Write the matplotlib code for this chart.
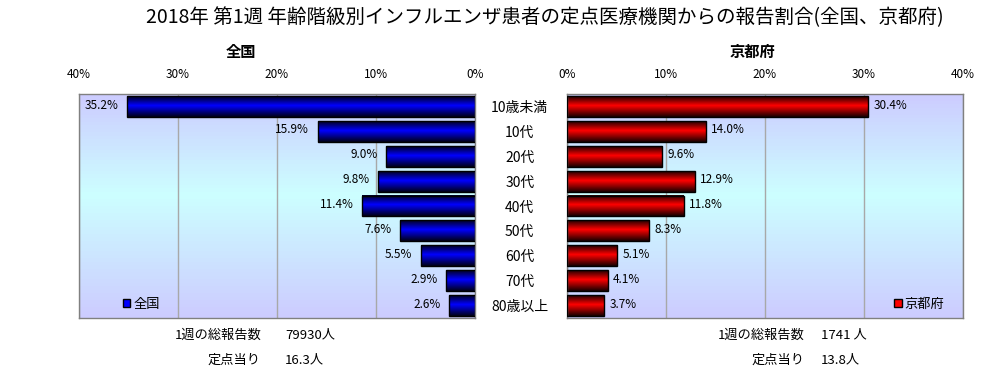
import numpy as np
import matplotlib
matplotlib.use('Agg')
import matplotlib.pyplot as plt
from matplotlib.colors import LinearSegmentedColormap
from matplotlib.patches import Patch

# フォント設定
plt.rcParams['font.family'] = ['Noto Sans CJK JP', 'DejaVu Sans']
plt.rcParams['axes.unicode_minus'] = False

# データ
age_groups = ['10歳未満', '10代', '20代', '30代', '40代', '50代', '60代', '70代', '80歳以上']
zenkoku = [35.2, 15.9, 9.0, 9.8, 11.4, 7.6, 5.5, 2.9, 2.6]
kyoto = [30.4, 14.0, 9.6, 12.9, 11.8, 8.3, 5.1, 4.1, 3.7]
xticks = [0, 10, 20, 30, 40]
zenkoku_total = '79930人'
zenkoku_per_point = '16.3人'
kyoto_total = '1741 人'
kyoto_per_point = '13.8人'

# 背景・バーのグラデーション
bg_cmap = LinearSegmentedColormap.from_list(
    'bg', [(0.0, '#ccccff'), (0.45, '#ccffff'), (1.0, '#ccccff')])
blue_cmap = LinearSegmentedColormap.from_list(
    'blue', [(0.0, '#000020'), (0.45, '#0000ff'), (1.0, '#000018')])
red_cmap = LinearSegmentedColormap.from_list(
    'red', [(0.0, '#200000'), (0.45, '#ff0000'), (1.0, '#180000')])

grad = np.linspace(0, 1, 64).reshape(-1, 1)
ypos = np.arange(len(age_groups))[::-1]

fig = plt.figure(figsize=(10.06, 3.73), dpi=100)
fig.patch.set_facecolor('white')

ax1 = fig.add_axes([79 / 1006, 55 / 373, 396 / 1006, 224 / 373])
ax2 = fig.add_axes([567 / 1006, 55 / 373, 396 / 1006, 224 / 373])


def draw_panel(ax, values, cmap, label_side):
    # 背景
    ax.imshow(grad, extent=[0, 1, 0, 1], transform=ax.transAxes,
              aspect='auto', cmap=bg_cmap, zorder=0, origin='upper')
    bars = ax.barh(ypos, values, height=0.84, facecolor='none',
                   edgecolor='black', linewidth=1, zorder=3)
    for p in bars.patches:
        x0, y0 = p.get_x(), p.get_y()
        w, h = p.get_width(), p.get_height()
        ax.imshow(grad, extent=[x0, x0 + w, y0, y0 + h], aspect='auto',
                  cmap=cmap, zorder=2, origin='upper')
    for y, v in zip(ypos, values):
        if label_side == 'left':
            ax.annotate(f'{v:.1f}%', (v, y), xytext=(-6, 1),
                        textcoords='offset points', ha='right', va='center',
                        fontsize=8.5, zorder=4)
        else:
            ax.annotate(f'{v:.1f}%', (v, y), xytext=(4, 1),
                        textcoords='offset points', ha='left', va='center',
                        fontsize=8.5, zorder=4)
    ax.set_ylim(-0.5, len(age_groups) - 0.5)
    ax.set_xticks(xticks)
    ax.set_xticklabels([f'{t}%' for t in xticks], fontsize=8.5)
    ax.xaxis.tick_top()
    ax.tick_params(axis='x', length=0, pad=9)
    ax.set_axisbelow(True)
    ax.grid(axis='x', color='#a8a8a8', linewidth=1)
    for s in ax.spines.values():
        s.set_color('#808080')
        s.set_linewidth(1)


draw_panel(ax1, zenkoku, blue_cmap, 'left')
ax1.set_xlim(40, 0)
ax1.set_yticks([])
ax1.legend(handles=[Patch(facecolor='#0000ff', edgecolor='black')],
           labels=['全国'], loc='center left', bbox_to_anchor=(0.095, 0.06),
           frameon=False, handlelength=0.55, handleheight=0.55,
           handletextpad=0.2, fontsize=9.5, borderpad=0)

draw_panel(ax2, kyoto, red_cmap, 'right')
ax2.set_xlim(0, 40)
ax2.set_yticks(ypos)
ax2.set_yticklabels(age_groups, fontsize=10)
ax2.tick_params(axis='y', length=0, pad=34)
for lbl in ax2.get_yticklabels():
    lbl.set_horizontalalignment('center')
ax2.legend(handles=[Patch(facecolor='#ff0000', edgecolor='black')],
           labels=['京都府'], loc='center left', bbox_to_anchor=(0.81, 0.06),
           frameon=False, handlelength=0.55, handleheight=0.55,
           handletextpad=0.2, fontsize=9.5, borderpad=0)

# タイトル
fig.text(545 / 1006, 1 - 18 / 373,
         '2018年 第1週 年齢階級別インフルエンザ患者の定点医療機関からの報告割合(全国、京都府)',
         ha='center', va='center', fontsize=14)
fig.text(241 / 1006, 1 - 52 / 373, '全国', ha='center', va='center',
         fontsize=11, fontweight='bold')
fig.text(752 / 1006, 1 - 52 / 373, '京都府', ha='center', va='center',
         fontsize=11, fontweight='bold')

# 報告数
fig.text(262 / 1006, 1 - 335 / 373, '1週の総報告数', ha='right', va='center', fontsize=9.5)
fig.text(285 / 1006, 1 - 335 / 373, zenkoku_total, ha='left', va='center', fontsize=9.5)
fig.text(261 / 1006, 1 - 360 / 373, '定点当り', ha='right', va='center', fontsize=9.5)
fig.text(285 / 1006, 1 - 360 / 373, zenkoku_per_point, ha='left', va='center', fontsize=9.5)
fig.text(805 / 1006, 1 - 335 / 373, '1週の総報告数', ha='right', va='center', fontsize=9.5)
fig.text(821 / 1006, 1 - 335 / 373, kyoto_total, ha='left', va='center', fontsize=9.5)
fig.text(804 / 1006, 1 - 360 / 373, '定点当り', ha='right', va='center', fontsize=9.5)
fig.text(821 / 1006, 1 - 360 / 373, kyoto_per_point, ha='left', va='center', fontsize=9.5)

fig.savefig('out.png', dpi=100)
